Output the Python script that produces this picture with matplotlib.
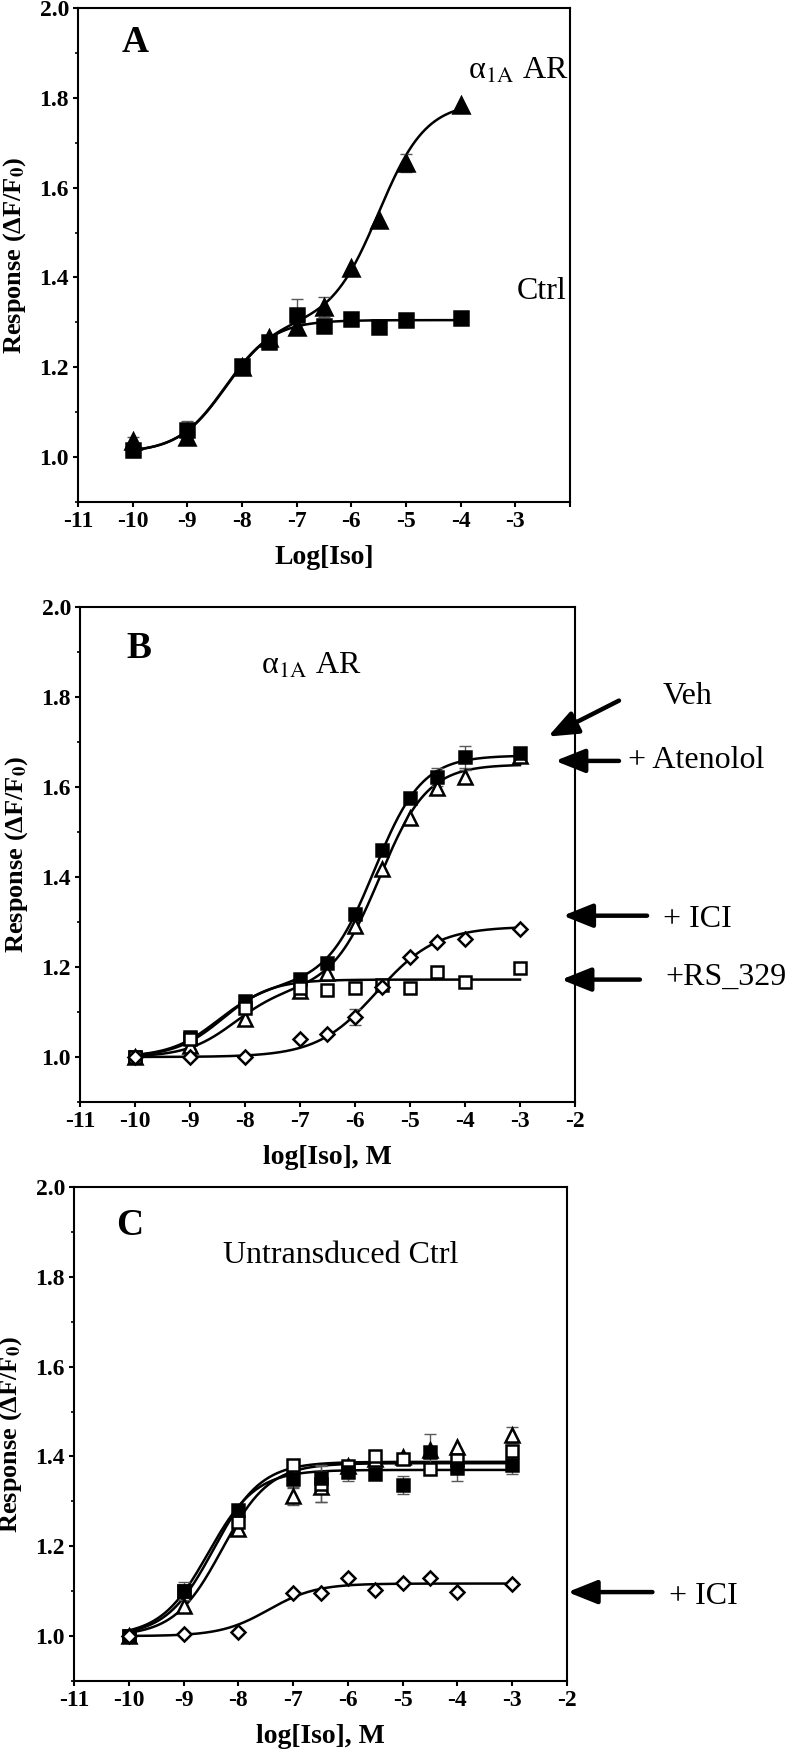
import numpy as np
import matplotlib
matplotlib.use("Agg")
import matplotlib.pyplot as plt
from matplotlib.ticker import MultipleLocator, FormatStrFormatter

plt.rcParams['font.family'] = ['Liberation Serif', 'DejaVu Serif']
plt.rcParams['mathtext.fontset'] = 'stix'

# ---------------- Panel A: alpha1A AR vs Ctrl ----------------
a_x = [-10, -9, -8, -7.5, -7, -6.5, -6, -5.5, -5, -4]
a_alpha = [1.035, 1.045, 1.200, 1.265, 1.290, 1.335, 1.420, 1.528, 1.654, 1.784]
a_alpha_err = [0.01, 0, 0, 0, 0, 0.022, 0, 0, 0.02, 0]
a_ctrl = [1.015, 1.060, 1.202, 1.257, 1.316, 1.293, 1.308, 1.289, 1.305, 1.310]
a_ctrl_err = [0.015, 0.02, 0, 0, 0.035, 0, 0, 0, 0, 0.01]
# fitted curve parameters: bottom, amp1, logEC50_1, hill1, amp2, logEC50_2, hill2
a_alpha_fit = [1.01, 0.29, -8.3, 1.0, 0.49, -5.5, 1.0]
a_ctrl_fit = [1.01, 0.295, -8.3, 1.0, 0.0, -5.0, 1.0]

# ---------------- Panel B: alpha1A AR with antagonists ----------------
b_x = [-10, -9, -8, -7, -6.5, -6, -5.5, -5, -4.5, -4, -3]
b_veh = [1.000, 1.045, 1.125, 1.173, 1.210, 1.318, 1.461, 1.576, 1.622, 1.667, 1.676]
b_veh_err = [0, 0, 0, 0, 0, 0, 0, 0, 0.02, 0.025, 0.01]
b_aten = [1.000, 1.025, 1.085, 1.146, 1.187, 1.292, 1.418, 1.532, 1.598, 1.623, 1.670]
b_aten_err = [0, 0, 0, 0, 0, 0, 0, 0, 0.01, 0.015, 0]
b_rs = [1.000, 1.040, 1.110, 1.154, 1.150, 1.154, 1.161, 1.154, 1.190, 1.166, 1.198]
b_rs_err = [0] * 11
b_ici = [1.000, 1.000, 1.000, 1.040, 1.051, 1.089, 1.155, 1.222, 1.255, 1.262, 1.285]
b_ici_err = [0, 0, 0, 0, 0, 0.018, 0, 0, 0, 0, 0]
b_veh_fit = [1.0, 0.16, -8.5, 1.0, 0.51, -5.65, 1.0]
b_aten_fit = [1.0, 0.15, -8.2, 1.0, 0.50, -5.55, 1.0]
b_rs_fit = [1.0, 0.172, -8.4, 1.0, 0.0, -5.0, 1.0]
b_ici_fit = [1.0, 0.29, -5.6, 0.8, 0.0, -5.0, 1.0]

# ---------------- Panel C: untransduced control ----------------
c_x = [-10, -9, -8, -7, -6.5, -6, -5.5, -5, -4.5, -4, -3]
c_veh = [1.000, 1.100, 1.280, 1.349, 1.352, 1.366, 1.362, 1.336, 1.409, 1.375, 1.380]
c_veh_err = [0.01, 0.02, 0.01, 0.02, 0.03, 0.02, 0, 0.02, 0.04, 0.03, 0.02]
c_sq = [1.000, 1.100, 1.254, 1.380, 1.338, 1.378, 1.401, 1.395, 1.373, 1.392, 1.413]
c_sq_err = [0, 0, 0, 0, 0.04, 0.01, 0, 0, 0, 0, 0]
c_tri = [1.000, 1.067, 1.238, 1.312, 1.333, 1.379, 1.395, 1.399, 1.415, 1.420, 1.448]
c_tri_err = [0, 0, 0, 0.02, 0.035, 0, 0, 0, 0, 0, 0.018]
c_ici = [1.000, 1.004, 1.009, 1.097, 1.095, 1.129, 1.103, 1.119, 1.129, 1.098, 1.116]
c_ici_err = [0] * 11
c_veh_fit = [1.0, 0.370, -8.55, 1.0, 0.0, -5.0, 1.0]
c_sq_fit = [1.0, 0.388, -8.45, 1.0, 0.0, -5.0, 1.0]
c_tri_fit = [1.0, 0.385, -8.30, 1.0, 0.0, -5.0, 1.0]
c_ici_fit = [1.0, 0.117, -7.45, 1.0, 0.0, -5.0, 1.0]

xtick_vals = list(range(-11, -1))


def response(x, p):
    bottom, a1, ec1, h1, a2, ec2, h2 = p
    return (bottom + a1 / (1 + 10 ** ((ec1 - x) * h1))
            + a2 / (1 + 10 ** ((ec2 - x) * h2)))


def series(ax, x, y, err, fit, marker, filled, ms):
    xs = np.linspace(min(x), max(x), 400)
    ax.plot(xs, response(xs, fit), color='k', lw=1.8, zorder=2)
    x = np.asarray(x, float)
    y = np.asarray(y, float)
    err = np.asarray(err, float)
    m = err > 0
    if m.any():
        ax.errorbar(x[m], y[m], yerr=err[m], fmt='none', ecolor='0.35',
                    elinewidth=1.0, capsize=4, capthick=1.0, zorder=3)
    ax.plot(x, y, ls='none', marker=marker, ms=ms,
            mfc='k' if filled else 'white', mec='k', mew=1.8, zorder=4)


def style(ax, xlabel, label_last=True):
    ax.set_xlim(-11, -2)
    ax.set_ylim(0.9, 2.0)
    ax.set_xticks(xtick_vals)
    labels = [str(v) for v in xtick_vals]
    if not label_last:
        labels[-1] = ''
    ax.set_xticklabels(labels)
    ax.yaxis.set_major_locator(MultipleLocator(0.2))
    ax.yaxis.set_minor_locator(MultipleLocator(0.1))
    ax.yaxis.set_major_formatter(FormatStrFormatter('%.1f'))
    ax.tick_params(which='major', direction='out', length=3.5, width=1.5,
                   labelsize=17, pad=3)
    ax.tick_params(which='minor', direction='out', length=2.5, width=1.2)
    for lbl in ax.get_xticklabels() + ax.get_yticklabels():
        lbl.set_fontweight('bold')
    for s in ax.spines.values():
        s.set_linewidth(1.5)
    ax.set_xlabel(xlabel, fontsize=20, fontweight='bold', labelpad=9)
    ax.set_ylabel('Response (ΔF/F$_\\mathbf{0}$)', fontsize=19, fontweight='bold')
    ax.yaxis.set_label_coords(-0.102, 0.5)


W, H = 794, 1750
fig = plt.figure(figsize=(W / 100, H / 100), dpi=100)
ax_a = fig.add_axes([78 / W, (H - 502) / H, 492 / W, 494 / H])
ax_b = fig.add_axes([80 / W, (H - 1102) / H, 495 / W, 495 / H])
ax_c = fig.add_axes([74 / W, (H - 1681) / H, 493 / W, 494 / H])

arrow = dict(arrowstyle='-|>,head_length=0.9,head_width=0.36', mutation_scale=20,
             lw=3.2, color='k', shrinkA=0, shrinkB=0)
txt = dict(fontsize=23, va='center', fontweight='normal')

# Panel A
series(ax_a, a_x, a_alpha, a_alpha_err, a_alpha_fit, '^', True, 11)
series(ax_a, a_x, a_ctrl, a_ctrl_err, a_ctrl_fit, 's', True, 10)
style(ax_a, 'Log[Iso]', label_last=False)
ax_a.text(-9.95, 1.923, 'A', fontsize=27, fontweight='bold', ha='center', va='center')
ax_a.text(-3.87, 1.859, 'α$_{\\mathrm{1A}}$ AR', **txt)
ax_a.text(-2.98, 1.369, 'Ctrl', **txt)

# Panel B
series(ax_b, b_x, b_aten, b_aten_err, b_aten_fit, '^', False, 9.5)
series(ax_b, b_x, b_veh, b_veh_err, b_veh_fit, 's', True, 9)
series(ax_b, b_x, b_rs, b_rs_err, b_rs_fit, 's', False, 9)
series(ax_b, b_x, b_ici, b_ici_err, b_ici_fit, 'D', False, 7.5)
style(ax_b, 'log[Iso], M')
ax_b.text(-9.93, 1.908, 'B', fontsize=27, fontweight='bold', ha='center', va='center')
ax_b.text(-7.71, 1.869, 'α$_{\\mathrm{1A}}$ AR', **txt)
ax_b.annotate('', xy=(-2.49, 1.712), xytext=(-1.2, 1.792), arrowprops=arrow,
              annotation_clip=False)
ax_b.annotate('', xy=(-2.36, 1.658), xytext=(-1.2, 1.658), arrowprops=arrow,
              annotation_clip=False)
ax_b.annotate('', xy=(-2.22, 1.314), xytext=(-0.69, 1.314), arrowprops=arrow,
              annotation_clip=False)
ax_b.annotate('', xy=(-2.25, 1.172), xytext=(-0.82, 1.172), arrowprops=arrow,
              annotation_clip=False)
ax_b.text(-0.40, 1.801, 'Veh', clip_on=False, **txt)
ax_b.text(-1.04, 1.658, '+ Atenolol', clip_on=False, **txt)
ax_b.text(-0.40, 1.305, '+ ICI', clip_on=False, **txt)
ax_b.text(-0.36, 1.178, '+RS_329', clip_on=False, **txt)

# Panel C
series(ax_c, c_x, c_tri, c_tri_err, c_tri_fit, '^', False, 9.5)
series(ax_c, c_x, c_sq, c_sq_err, c_sq_fit, 's', False, 9)
series(ax_c, c_x, c_veh, c_veh_err, c_veh_fit, 's', True, 9)
series(ax_c, c_x, c_ici, c_ici_err, c_ici_fit, 'D', False, 7.5)
style(ax_c, 'log[Iso], M')
ax_c.text(-9.99, 1.914, 'C', fontsize=27, fontweight='bold', ha='center', va='center')
ax_c.text(-6.14, 1.848, 'Untransduced Ctrl', ha='center', fontsize=23,
          va='center', fontweight='normal')
ax_c.annotate('', xy=(-1.99, 1.098), xytext=(-0.44, 1.098), arrowprops=arrow,
              annotation_clip=False)
ax_c.text(-0.13, 1.089, '+ ICI', clip_on=False, **txt)

fig.savefig('out.png', dpi=100)
